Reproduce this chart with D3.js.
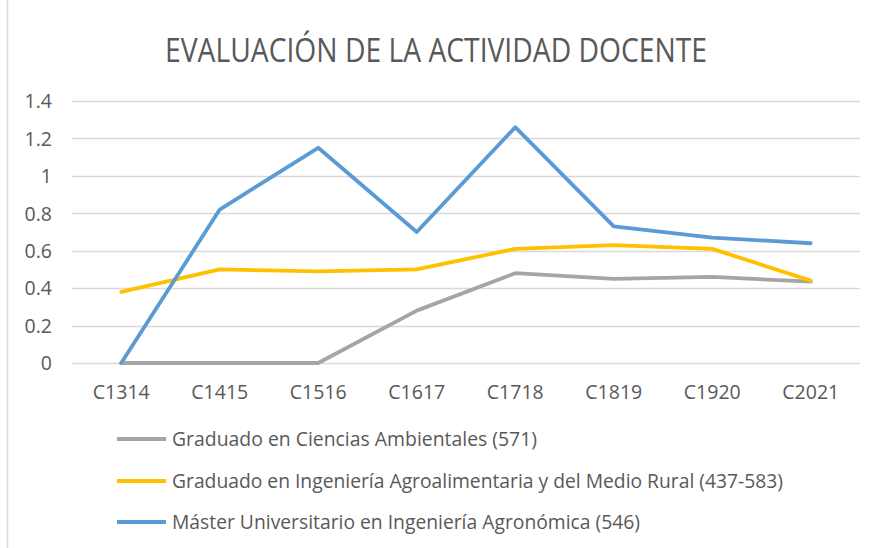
<!DOCTYPE html>
<html><head><meta charset="utf-8">
<script src="https://cdn.jsdelivr.net/npm/d3@7"></script>
<style>body{margin:0;background:#fff}svg{display:block}</style>
</head><body>
<script>
const categories = ["C1314","C1415","C1516","C1617","C1718","C1819","C1920","C2021"];
const seriesNames = ["Graduado en Ciencias Ambientales (571)","Graduado en Ingeniería Agroalimentaria y del Medio Rural (437-583)","Máster Universitario en Ingeniería Agronómica (546)"];
const graduadoAmbientales = [0,0,0,0.28,0.48,0.45,0.46,0.435];
const graduadoAgro = [0.38,0.50,0.49,0.50,0.61,0.63,0.61,0.44];
const masterAgronomica = [0,0.82,1.15,0.70,1.26,0.73,0.67,0.64];
const yTicks = [0,0.2,0.4,0.6,0.8,1,1.2,1.4];
const colors = ["#A5A5A5","#FFC000","#5B9BD5"];
const title = "EVALUACIÓN DE LA ACTIVIDAD DOCENTE";

const W=872,H=548;
const svg=d3.select("body").append("svg").attr("width",W).attr("height",H);
const font="'Open Sans',Arial,sans-serif";
svg.append("line").attr("x1",7.5).attr("x2",7.5).attr("y1",0).attr("y2",H).attr("stroke","#d9d9d9").attr("stroke-width",1.5);

const x=d3.scaleBand().domain(categories).range([72,860]);
const y=d3.scaleLinear().domain([0,1.4]).range([363,101]);

svg.append("text").attr("x",436).attr("y",62).attr("text-anchor","middle")
  .attr("font-family",font).attr("font-size",33).attr("fill","#595959")
  .attr("textLength",542).attr("lengthAdjust","spacingAndGlyphs").text(title);

const g=svg.append("g");
g.selectAll("line.grid").data(yTicks).join("line").attr("class","grid")
  .attr("x1",72).attr("x2",860).attr("y1",d=>Math.round(y(d))+0.5).attr("y2",d=>Math.round(y(d))+0.5)
  .attr("stroke","#d9d9d9").attr("stroke-width",1.3);

const yAxis=svg.append("g").attr("transform","translate(52,0)")
  .call(d3.axisLeft(y).tickValues(yTicks).tickSize(0).tickPadding(0).tickFormat(d=>String(d)));
yAxis.select(".domain").remove();
yAxis.selectAll("text").attr("font-family",font).attr("font-size",19.5).attr("fill","#595959").attr("dy","0.35em");

const xAxis=svg.append("g").attr("transform","translate(0,392)")
  .call(d3.axisBottom(x).tickSize(0).tickPadding(0));
xAxis.select(".domain").remove();
xAxis.selectAll("text").attr("font-family",font).attr("font-size",19.5).attr("fill","#595959").attr("dy","0.35em");

const series=[graduadoAmbientales,graduadoAgro,masterAgronomica];
const line=d3.line().x((d,i)=>x(categories[i])+x.bandwidth()/2).y(d=>y(d));
series.forEach((s,k)=>{
  svg.append("path").attr("d",line(s)).attr("fill","none").attr("stroke",colors[k])
    .attr("stroke-width",3.8).attr("stroke-linejoin","round").attr("stroke-linecap","round");
});

const legY=[439,481,522];
const legW=[365,611,468];
seriesNames.forEach((n,k)=>{
  svg.append("line").attr("x1",117).attr("x2",166).attr("y1",legY[k]).attr("y2",legY[k])
    .attr("stroke",colors[k]).attr("stroke-width",3.8);
  svg.append("text").attr("x",172).attr("y",legY[k]).attr("dy","0.35em")
    .attr("font-family",font).attr("font-size",19.5).attr("fill","#595959")
    .attr("textLength",legW[k]).attr("lengthAdjust","spacingAndGlyphs").text(n);
});
</script>
</body></html>
